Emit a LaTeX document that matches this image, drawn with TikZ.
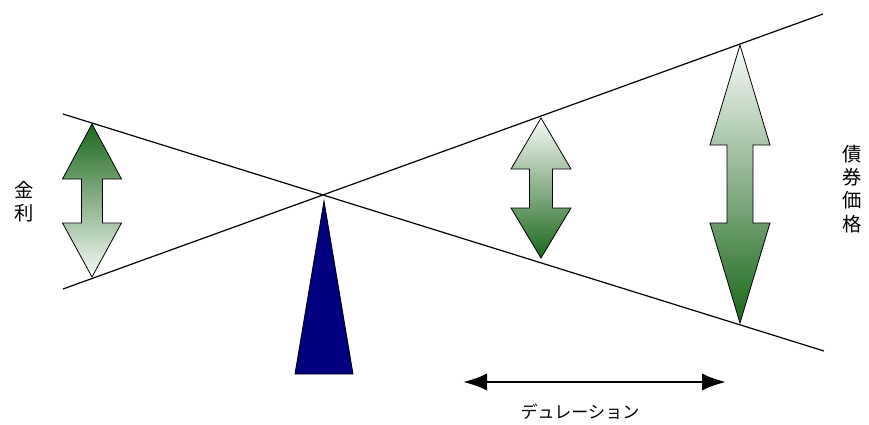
\documentclass[tikz,border=0pt]{standalone}
\usepackage{fontspec}
\newfontfamily\jp{Noto Sans CJK JP}
\usetikzlibrary{arrows.meta}
\definecolor{dkgreen}{RGB}{26,104,26}
\definecolor{ltgreen}{RGB}{248,250,248}
\definecolor{navyfill}{RGB}{0,0,128}
\begin{document}
\begin{tikzpicture}[x=0.75pt,y=-0.75pt,
  thinline/.style={draw=black,line width=0.9pt},
  fatarrow/.style={draw=black,line width=0.6pt,line join=miter},
  downdark/.style={fatarrow,top color=ltgreen,bottom color=dkgreen},
  updark/.style={fatarrow,top color=dkgreen,bottom color=ltgreen},
  lbl/.style={font=\jp\fontsize{12.8}{17.3}\selectfont,inner sep=0pt,align=center},
  vlbl/.style={font=\jp\fontsize{14.5}{17.4}\selectfont,inner sep=0pt,align=center}]
\useasboundingbox (0,0) rectangle (869,425);
% lines
\coordinate (a1) at (63,114);
\coordinate (a2) at (824,351);
\coordinate (b1) at (63,289);
\coordinate (b2) at (823,14);
\draw[thinline] (a1) -- (a2);
\draw[thinline] (b1) -- (b2);
% fulcrum
\path[draw=black,line width=0.6pt,fill=navyfill] (324,201) -- (353,374) -- (295,374) -- cycle;
% left arrow (dark on top)
\path[updark] (92,124) -- (121.5,179) -- (102.5,179) -- (102.5,223) -- (121.5,223) -- (92,277)
  -- (62.5,223) -- (81.5,223) -- (81.5,179) -- (62.5,179) -- cycle;
% middle arrow
\path[downdark] (541,118) -- (571,169) -- (552.5,169) -- (552.5,208) -- (571,208) -- (541,258)
  -- (511,208) -- (529.5,208) -- (529.5,169) -- (511,169) -- cycle;
% right arrow
\path[downdark] (740,45) -- (770,145) -- (753,145) -- (753,223) -- (770,223) -- (740,323)
  -- (710,223) -- (727,223) -- (727,145) -- (710,145) -- cycle;
% duration arrow
\coordinate (d1) at (463,382);
\coordinate (d2) at (726,382);
\draw[line width=2pt,{Latex[length=18pt,width=13pt]}-{Latex[length=18pt,width=13pt]}] (d1) -- (d2);
% labels
\node[lbl] (dur) at (580,412) {デュレーション};
\node[vlbl] (rate) at (24,202) {金\\利};
\node[vlbl] (price) at (852,189) {債\\券\\価\\格};
\end{tikzpicture}
\end{document}
